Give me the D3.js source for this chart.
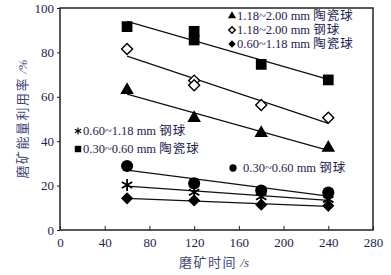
<!DOCTYPE html>
<html>
<head>
<meta charset="utf-8">
<script src="https://cdn.jsdelivr.net/npm/d3@7"></script>
<style>
  body { margin: 0; background: #fff; }
  svg text { font-family: "Liberation Serif", "Noto Sans CJK SC", serif; fill: #1c2350; }
</style>
</head>
<body>
<div id="chart"></div>
<script>
// grinding time (s) and energy utilisation (%) per ball type
const xTicks = [0, 40, 80, 120, 160, 200, 240, 280];
const yTicks = [0, 20, 40, 60, 80, 100];

const sqCeramic030 = [[60, 91.6], [120, 89.5], [120, 85.6], [180, 74.6], [240, 67.6]];
const dmSteel118 = [[60, 81.5], [120, 67.3], [120, 65.2], [180, 56.3], [240, 50.6]];
const triCeramic118 = [[60, 63], [120, 50.4], [180, 43.7], [240, 37]];
const cirSteel030 = [[60, 28.8], [120, 21], [180, 17.8], [240, 16.9]];
const starSteel060 = [[60, 20.3], [120, 17], [180, 15], [240, 13.8]];
const dmCeramic060 = [[60, 14.3], [120, 13.3], [180, 11.4], [240, 10.9]];

const width = 391, height = 275;
const margin = { top: 8, right: 18, bottom: 45, left: 60 };

const svg = d3.select("#chart").append("svg")
    .attr("width", width)
    .attr("height", height);

const x = d3.scaleLinear().domain([0, 280]).range([margin.left, width - margin.right]);
const y = d3.scaleLinear().domain([0, 100]).range([height - margin.bottom, margin.top]);

// axes
svg.append("g")
    .attr("transform", `translate(0,${height - margin.bottom})`)
    .call(d3.axisBottom(x).tickValues(xTicks).tickSizeInner(-4).tickSizeOuter(0).tickPadding(8))
    .call(g => g.select(".domain").remove())
    .call(g => g.selectAll("line").attr("stroke", "#222"))
    .call(g => g.selectAll("text").attr("font-size", 13).attr("fill", "#1c2350"));

svg.append("g")
    .attr("transform", `translate(${margin.left},0)`)
    .call(d3.axisLeft(y).tickValues(yTicks).tickSize(3).tickPadding(3))
    .call(g => g.select(".domain").remove())
    .call(g => g.selectAll("line").attr("stroke", "#222"))
    .call(g => g.selectAll("text").attr("font-size", 13).attr("fill", "#1c2350"));

// frame
svg.append("rect")
    .attr("x", x(0)).attr("y", y(100))
    .attr("width", x(280) - x(0)).attr("height", y(0) - y(100))
    .attr("fill", "none").attr("stroke", "#222").attr("stroke-width", 1.5);

// axis titles (CJK part a little spaced, like the song typeface)
function cjkText(sel, cjk, rest, size) {
    sel.append("tspan").attr("font-size", size).attr("letter-spacing", 1.5).text(cjk);
    sel.append("tspan").attr("font-size", size).attr("font-style", "italic").text(rest);
}

const yTitle = svg.append("text")
    .attr("transform", `translate(21,${(y(0) + y(100)) / 2}) rotate(-90)`)
    .attr("text-anchor", "middle")
    .attr("dy", "0.35em")
    .style("fill", "#3a4678");
cjkText(yTitle, "磨矿能量利用率", " /%", 13);

const xTitle = svg.append("text")
    .attr("x", 214).attr("y", 267)
    .attr("text-anchor", "middle")
    .style("fill", "#3a4678");
cjkText(xTitle, "磨矿时间", " /s", 13);

// least squares fit line over the series
function fit(data) {
    const mx = d3.mean(data, d => d[0]), my = d3.mean(data, d => d[1]);
    const b = d3.sum(data, d => (d[0] - mx) * (d[1] - my)) / d3.sum(data, d => (d[0] - mx) ** 2);
    const x0 = d3.min(data, d => d[0]), x1 = d3.max(data, d => d[0]);
    return [[x0, my + b * (x0 - mx)], [x1, my + b * (x1 - mx)]];
}

const line = d3.line().x(d => x(d[0])).y(d => y(d[1]));

const series = [
    { data: sqCeramic030, shape: "square" },
    { data: dmSteel118, shape: "diamondOpen" },
    { data: triCeramic118, shape: "triangle" },
    { data: cirSteel030, shape: "circle" },
    { data: starSteel060, shape: "star" },
    { data: dmCeramic060, shape: "diamond" }
];

series.forEach(s => {
    svg.append("path")
        .attr("d", line(fit(s.data)))
        .attr("fill", "none")
        .attr("stroke", "#111")
        .attr("stroke-width", 1.3);
});

function marker(g, shape, cx, cy, k) {
    if (shape === "square") {
        g.append("path").attr("d", d3.symbol(d3.symbolSquare, 115 * k * k)())
            .attr("transform", `translate(${cx},${cy})`).attr("fill", "#000");
    } else if (shape === "diamond" || shape === "diamondOpen") {
        const open = shape === "diamondOpen";
        g.append("path").attr("d", d3.symbol(d3.symbolSquare, (open ? 60 : 75) * k * k)())
            .attr("transform", `translate(${cx},${cy}) rotate(45)`)
            .attr("fill", open ? "#fff" : "#000")
            .attr("stroke", "#000").attr("stroke-width", open ? 1.4 : 0);
    } else if (shape === "triangle") {
        g.append("path").attr("d", d3.symbol(d3.symbolTriangle, 80 * k * k)())
            .attr("transform", `translate(${cx},${cy})`).attr("fill", "#000");
    } else if (shape === "circle") {
        g.append("path").attr("d", d3.symbol(d3.symbolCircle, 115 * k * k)())
            .attr("transform", `translate(${cx},${cy})`).attr("fill", "#000");
    } else if (shape === "star") {
        const r = 6 * k;
        const p = d3.path();
        [90, 30, -30].forEach(a => {
            const t = a * Math.PI / 180;
            p.moveTo(cx - r * Math.cos(t), cy - r * Math.sin(t));
            p.lineTo(cx + r * Math.cos(t), cy + r * Math.sin(t));
        });
        g.append("path").attr("d", p.toString()).attr("stroke", "#000").attr("stroke-width", 1.6 * k + 0.2);
    }
}

const marks = svg.append("g");
series.forEach(s => {
    s.data.forEach(d => marker(marks, s.shape, x(d[0]), y(d[1]), 1));
});

// legends
const legendItems = [
    { shape: "triangle", num: "1.18~2.00 mm ", cjk: "陶瓷球", lx: 232, ly: 16 },
    { shape: "diamondOpen", num: "1.18~2.00 mm ", cjk: "钢球", lx: 232, ly: 30 },
    { shape: "diamond", num: "0.60~1.18 mm ", cjk: "陶瓷球", lx: 232, ly: 44 },
    { shape: "star", num: "0.60~1.18 mm ", cjk: "钢球", lx: 78, ly: 131 },
    { shape: "square", num: "0.30~0.60 mm ", cjk: "陶瓷球", lx: 78, ly: 149 },
    { shape: "circle", num: "0.30~0.60 mm ", cjk: "钢球", lx: 233, ly: 168 }
];

const leg = svg.append("g");
legendItems.forEach(it => {
    marker(leg, it.shape, it.lx, it.ly, 0.6);
    const t = leg.append("text")
        .attr("x", it.lx + (it.shape === "circle" ? 10 : 5))
        .attr("y", it.ly)
        .attr("dy", "0.35em")
        .attr("font-size", 12.5);
    t.append("tspan").text(it.num);
    t.append("tspan").attr("letter-spacing", 1).text(it.cjk);
});
</script>
</body>
</html>
